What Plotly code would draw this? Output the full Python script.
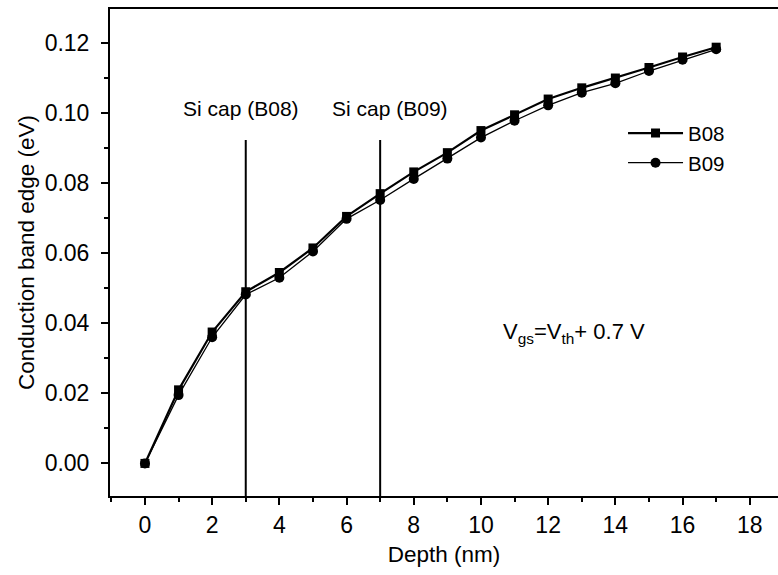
import plotly.graph_objects as go

depth = list(range(18))
b08 = [0.0, 0.0210, 0.0375, 0.0490, 0.0545, 0.0615, 0.0705, 0.0770, 0.0832, 0.0887,
       0.0950, 0.0995, 0.1040, 0.1072, 0.1100, 0.1130, 0.1160, 0.1188]
b09 = [0.0, 0.0195, 0.0360, 0.0482, 0.0530, 0.0605, 0.0698, 0.0752, 0.0812, 0.0870,
       0.0930, 0.0978, 0.1022, 0.1058, 0.1085, 0.1120, 0.1152, 0.1182]
cap_pos = [3, 7]
cap_labels = ["Si cap (B08)", "Si cap (B09)"]
cap_shift = [-5, 10]
cap_top = 0.0923
x_range = [-1.04, 18.84]
y_range = [-0.0093, 0.1297]
x_ticks = list(range(0, 19, 2))
y_ticks = [0.0, 0.02, 0.04, 0.06, 0.08, 0.10, 0.12]

FONT = "Liberation Sans, Arial, sans-serif"


def f(size=21, weight="normal"):
    return dict(family=FONT, size=size, color="black", weight=weight)


fig = go.Figure()
fig.add_trace(go.Scatter(x=depth, y=b09, name="B09", mode="lines+markers",
                         line=dict(color="black", width=1.3),
                         marker=dict(symbol="circle", size=10, color="black")))
fig.add_trace(go.Scatter(x=depth, y=b08, name="B08", mode="lines+markers",
                         line=dict(color="black", width=2.2),
                         marker=dict(symbol="square", size=9, color="black")))

for xp, lab, sh in zip(cap_pos, cap_labels, cap_shift):
    fig.add_shape(type="line", x0=xp, x1=xp, y0=cap_top, y1=y_range[0],
                  xref="x", yref="y", line=dict(color="black", width=2))
    fig.add_annotation(x=xp, y=cap_top + 0.0052, text=lab, showarrow=False,
                       xref="x", yref="y", yanchor="bottom", xshift=sh, font=f(21))

fig.add_annotation(x=12.77, y=0.0372, xref="x", yref="y", showarrow=False,
                   text="V<sub>gs</sub>=V<sub>th</sub>+ 0.7 V", xanchor="center",
                   font=f(22))

fig.update_layout(
    width=778, height=575,
    margin=dict(l=110, r=0, t=9, b=79),
    plot_bgcolor="white", paper_bgcolor="white",
    font=f(),
    showlegend=True,
    legend=dict(x=0.768, y=0.786, xanchor="left", yanchor="top",
                traceorder="reversed", bgcolor="rgba(0,0,0,0)",
                font=f(20.5), itemwidth=55, tracegroupgap=0),
    xaxis=dict(range=x_range, tickvals=x_ticks, showgrid=False, zeroline=False,
               showline=True, linecolor="black", linewidth=2, mirror=True,
               ticks="outside", ticklen=7, tickwidth=2, tickcolor="black",
               tickfont=f(23),
               minor=dict(dtick=1, tick0=0, ticks="outside", ticklen=4, tickwidth=1.5, tickcolor="black"),
               title=dict(text="Depth (nm)", font=f(22.5), standoff=10)),
    yaxis=dict(range=y_range, tickvals=y_ticks, tickformat=".2f", showgrid=False, zeroline=False,
               showline=True, linecolor="black", linewidth=2, mirror=False,
               ticks="outside", ticklen=7, tickwidth=2, tickcolor="black",
               tickfont=f(23), ticklabelstandoff=7,
               minor=dict(dtick=0.01, tick0=0, ticks="outside", ticklen=4, tickwidth=1.5, tickcolor="black"),
               title=dict(text="Conduction band edge (eV)", font=f(22.5), standoff=4)),
)

fig.write_html("out.html")
